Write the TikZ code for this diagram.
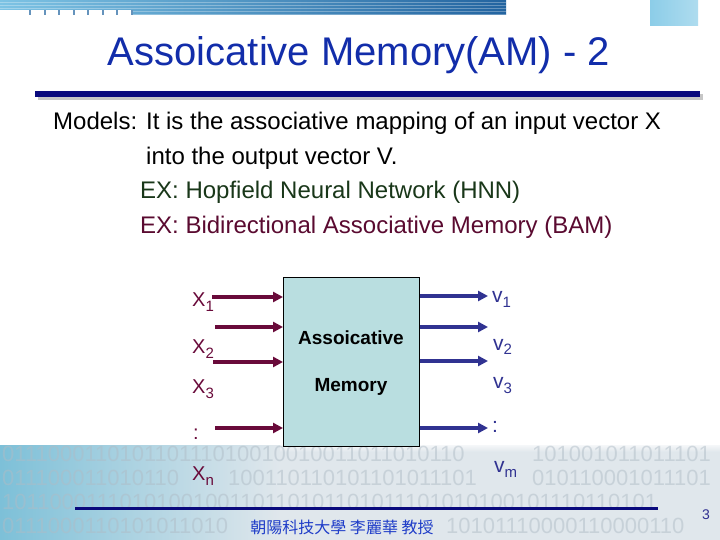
\documentclass[tikz,border=0pt]{standalone}
\usepackage{fontspec}
\setmainfont{Liberation Sans}
\newfontfamily\cjk{Noto Sans CJK TC}
\usetikzlibrary{arrows.meta}
\definecolor{titleblue}{RGB}{18,45,170}
\definecolor{navy}{RGB}{10,10,125}
\definecolor{maroon}{RGB}{105,10,58}
\definecolor{outblue}{RGB}{48,50,145}
\definecolor{exgreen}{RGB}{25,55,25}
\definecolor{exmaroon}{RGB}{90,10,48}
\definecolor{boxfill}{RGB}{185,222,224}
\definecolor{footblue}{RGB}{30,60,200}
\definecolor{digit}{RGB}{175,188,198}
\definecolor{bandcyan}{RGB}{125,192,216}
\definecolor{bandgray}{RGB}{224,231,236}
\definecolor{bannerlight}{RGB}{125,195,228}
\definecolor{bannerdark}{RGB}{35,100,160}
\definecolor{sqblue}{RGB}{140,205,232}
\newcommand\lbl[3]{#1\raisebox{-#3}{\fontsize{15}{15}\selectfont #2}}
\begin{document}
\begin{tikzpicture}[x=1pt,y=-1pt,
  txt/.style={inner sep=0pt, anchor=base west},
  xlab/.style={txt, text=maroon, font=\fontsize{20}{20}\selectfont},
  vlab/.style={txt, text=outblue, font=\fontsize{21}{21}\selectfont},
  body/.style={txt, font=\fontsize{24}{24}\selectfont},
  boxtxt/.style={inner sep=0pt, anchor=base, font=\bfseries\fontsize{19}{19}\selectfont},
  inarrow/.style={draw=maroon, line width=3.3pt, -{Triangle[length=10pt,width=10pt]}},
  outarrow/.style={draw=outblue, line width=3.3pt, -{Triangle[length=10pt,width=10pt]}},
  binrow/.style={txt, text=digit, opacity=0.5, font=\fontsize{22}{22}\selectfont},
]
\useasboundingbox (0,0) rectangle (720,540);
\fill[white] (0,0) rectangle (720,540);
% bottom band
\shade[left color=bandcyan, right color=bandgray] (0,445) rectangle (280,540);
\fill[bandgray] (280,445) rectangle (720,540);
\shade[top color=white, bottom color=bandgray, opacity=0.7] (280,445) rectangle (720,452);
\node[binrow] (b1a) at (2,461) {011100011010110111010010010011011010110};
\node[binrow] (b1b) at (532,461) {101001011011101};
\node[binrow] (b2a) at (2,485) {011100011010110};
\node[binrow] (b2b) at (228,485) {100110110101101011101};
\node[binrow] (b2c) at (532,485) {010110001011101};
\node[binrow] (b3) at (2,509) {1011000111010100100110110101101011101010100101110110101};
\node[binrow] (b4a) at (2,533) {0111000110101011010};
\node[binrow] (b4b) at (446,533) {10101110000110000110};
% top banner
\shade[left color=bannerlight, right color=bannerdark] (0,0) rectangle (506,15);
\foreach \yy in {2.5,5.5,...,14.5} \draw[white, opacity=0.3, line width=0.6pt] (0,\yy) -- (506,\yy);
\fill[white] (0,10) rectangle (132,15);
\foreach \i in {0,...,7} \fill[bannerdark!70] (29+14.5*\i,10) rectangle ++(2,5);
\shade[left color=sqblue, right color=sqblue!70!white] (650,0) rectangle (698,26);
% title
\node[inner sep=0pt, anchor=base, text=titleblue, font=\fontsize{40}{40}\selectfont] (title) at (359,66) {Assoicative Memory(AM) - 2};
\fill[gray!45] (38,94) rectangle (703,100);
\fill[navy] (35,91) rectangle (700,97);
% body text
\node[body] (l1) at (53,130) {Models: It is the associative mapping of an input vector X};
\node[body] (l2) at (146,164.5) {into the output vector V.};
\node[body, text=exgreen] (l3) at (140,199) {EX: Hopfield Neural Network (HNN)};
\node[body, text=exmaroon] (l4) at (140,233.5) {EX: Bidirectional Associative Memory (BAM)};
% box
\node[draw=black, line width=0.8pt, fill=boxfill, minimum width=136pt, minimum height=169pt, anchor=north west, inner sep=0pt] (am) at (283,277) {};
\node[boxtxt] (am1) at (351,344) {Assoicative};
\node[boxtxt] (am2) at (351,391) {Memory};
% input labels
\node[xlab] (x1) at (192,306) {\lbl{X}{1}{5pt}};
\node[xlab] (x2) at (192,353) {\lbl{X}{2}{5pt}};
\node[xlab] (x3) at (192,393) {\lbl{X}{3}{5pt}};
\node[xlab] (xd) at (193,439) {:};
\node[xlab] (xn) at (192,480) {\lbl{X}{n}{5pt}};
% output labels
\node[vlab] (v1) at (492,302) {\lbl{v}{1}{5pt}};
\node[vlab] (v2) at (493,350) {\lbl{v}{2}{4pt}};
\node[vlab] (v3) at (493,388) {\lbl{v}{3}{5pt}};
\node[vlab] (vd) at (492,432) {:};
\node[vlab] (vm) at (494,472) {\lbl{v}{m}{5pt}};
% arrow ends
\coordinate (i1) at (212,297);
\coordinate (i2) at (215,327);
\coordinate (i3) at (213,362);
\coordinate (i4) at (215,428);
\coordinate (o1) at (488,296);
\coordinate (o2) at (488,327);
\coordinate (o3) at (488,361);
\coordinate (o4) at (488,428);
\foreach \k in {1,...,4} {
  \draw[inarrow] (i\k) -- (i\k -| am.west);
  \draw[outarrow] (o\k -| am.east) -- (o\k);
}
% footer
\coordinate (fl) at (75,508);
\coordinate (fr) at (658,508);
\draw[navy, line width=3pt] (fl) -- (fr);
\node[inner sep=0pt, text=footblue, font=\cjk\fontsize{16}{16}\selectfont] (foot) at (342,527) {朝陽科技大學 李麗華 教授};
\node[inner sep=0pt, text=navy!85, font=\fontsize{14}{14}\selectfont] (pg) at (706,515) {3};
\end{tikzpicture}
\end{document}
